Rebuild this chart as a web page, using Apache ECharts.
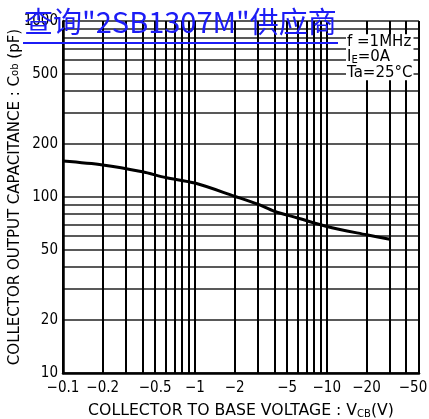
<!DOCTYPE html>
<html>
<head>
<meta charset="utf-8">
<script src="https://cdn.jsdelivr.net/npm/echarts@6/dist/echarts.min.js"></script>
<style>
html,body{margin:0;padding:0;background:#fff;}
#chart{width:429px;height:419px;}
</style>
</head>
<body>
<div id="chart"></div>
<script>
// |VCB| (V), magnitudes of the negative collector-base voltage
const voltage = [0.1, 0.2, 0.4, 0.6, 1, 2, 3, 4, 6, 10, 20, 30];
// Cob (pF)
const capacitance = [160, 152, 139, 129, 120, 101, 91, 83, 76, 68, 61, 57.5];
// tick labels
const xTickLabels = [0.1, 0.2, 0.5, 1, 2, 5, 10, 20, 50];
const yTickLabels = [10, 20, 50, 100, 200, 500, 1000];
// grid line values
const xGridValues = [0.1,0.2,0.3,0.4,0.5,0.6,0.7,0.8,0.9,1,2,3,4,5,6,7,8,9,10,20,30,40,50];
const yGridValues = [10,20,30,40,50,60,70,80,90,100,200,300,400,500,600,700,800,900,1000];

const lg = v => Math.log10(v);
const fmt = v => String(Number(Math.pow(10, v).toPrecision(3)));
const labelFont = '"Liberation Sans Narrow","DejaVu Sans Condensed","Liberation Sans",sans-serif';
const legendFont = '"DejaVu Sans",sans-serif';
const nameFont = '"DejaVu Sans",sans-serif';
const blue = '#1c1cf5';
const xMax = lg(xGridValues[xGridValues.length - 1]);

const chart = echarts.init(document.getElementById('chart'), null, {renderer: 'canvas'});
chart.setOption({
  animation: false,
  backgroundColor: '#fff',
  title: [
    {
      text: '查询"2SB1307M"供应商',
      left: 24, top: 7, padding: 0, z: 20,
      textStyle: {fontFamily: '"Noto Sans CJK SC",sans-serif', fontSize: 29, lineHeight: 30, color: blue, fontWeight: 'normal'}
    },
    {
      text: '{a|f =1MHz}\n{a|I}{s|E}{a|=0A}\n{a|Ta=25°C}',
      left: 346, top: 34, padding: [0, 1], backgroundColor: '#fff', z: 10,
      textStyle: {
        fontWeight: 'normal',
        rich: {
          a: {fontFamily: legendFont, fontSize: 15, lineHeight: 15.5, color: '#000', fontWeight: 'normal'},
          s: {fontFamily: legendFont, fontSize: 10, lineHeight: 15.5, color: '#000', fontWeight: 'normal', verticalAlign: 'bottom'}
        }
      }
    }
  ],
  graphic: [
    {type: 'line', z: 100, shape: {x1: 23, y1: 43, x2: 338, y2: 43}, style: {stroke: blue, lineWidth: 2}}
  ],
  grid: {left: 63, right: 10, top: 21, bottom: 46, containLabel: false, outerBoundsMode: 'none'},
  xAxis: {
    type: 'value',
    min: lg(xGridValues[0]),
    max: xMax,
    axisLine: {show: true, onZero: false, lineStyle: {color: '#000', width: 2.5}},
    axisTick: {show: false, customValues: xGridValues.map(lg)},
    splitLine: {show: true, lineStyle: {color: '#000', width: 2}},
    axisLabel: {
      customValues: xTickLabels.map(lg),
      formatter: v => Math.abs(v - xMax) < 1e-6 ? '{r|−' + fmt(v) + '}' : '−' + fmt(v),
      fontFamily: labelFont, fontSize: 15, color: '#000', margin: 8,
      showMinLabel: true, showMaxLabel: true, hideOverlap: false,
      rich: {r: {fontFamily: labelFont, fontSize: 15, color: '#000', padding: [0, 12, 0, 0]}}
    },
    name: 'COLLECTOR TO BASE VOLTAGE : V{s|CB}(V)',
    nameLocation: 'middle',
    nameGap: 30,
    nameMoveOverlap: false,
    nameTextStyle: {
      fontFamily: nameFont, fontSize: 15.7, color: '#000',
      rich: {s: {fontFamily: nameFont, fontSize: 10, color: '#000', verticalAlign: 'bottom', padding: [4, 0, 0, 0]}}
    }
  },
  yAxis: {
    type: 'value',
    min: lg(yGridValues[0]),
    max: lg(yGridValues[yGridValues.length - 1]),
    axisLine: {show: true, onZero: false, lineStyle: {color: '#000', width: 2.5}},
    axisTick: {show: false, customValues: yGridValues.map(lg)},
    splitLine: {show: true, lineStyle: {color: '#222', width: 1.6}},
    axisLabel: {
      customValues: yTickLabels.map(lg),
      formatter: v => fmt(v),
      fontFamily: labelFont, fontSize: 15, color: '#000', margin: 5,
      showMinLabel: true, showMaxLabel: true, hideOverlap: false
    },
    name: 'COLLECTOR OUTPUT CAPACITANCE : C{s|ob} (pF)',
    nameLocation: 'middle',
    nameRotate: 90,
    nameGap: 40,
    nameMoveOverlap: false,
    nameTextStyle: {
      fontFamily: nameFont, fontSize: 15, color: '#000',
      rich: {s: {fontFamily: nameFont, fontSize: 10, color: '#000'}}
    }
  },
  series: [{
    type: 'line',
    data: voltage.map((v, i) => [lg(v), lg(capacitance[i])]),
    showSymbol: false,
    smooth: 0.3,
    lineStyle: {color: '#000', width: 3},
    z: 5
  }]
});
</script>
</body>
</html>
